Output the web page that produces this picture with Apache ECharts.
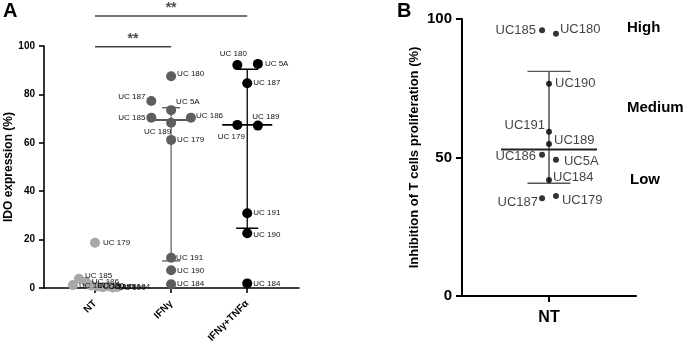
<!DOCTYPE html>
<html><head><meta charset="utf-8">
<script src="https://cdn.jsdelivr.net/npm/echarts@6/dist/echarts.min.js"></script>
<style>html,body{margin:0;padding:0;background:#fff}#c{width:685px;height:346px}</style>
</head><body><div id="c"></div>
<script>
// ---------- Panel A data ----------
const groupsA = ['NT', 'IFNγ', 'IFNγ+TNFα'];
const yTicksA = [0, 20, 40, 60, 80, 100];

const namesNT  = ['UC 179','UC 185','UC 187','UC 186','UC 180','UC 5A','UC 189','UC 191','UC 190','UC 184'];
const valuesNT = [18.7, 3.8, 1.2, 2.6, 1.0, 0.6, 0.3, 0.7, 0.2, 0.4];
const jitterNT = [0, -0.21, -0.29, -0.12, -0.05, 0.03, 0.1, 0.17, 0.23, 0.29];

const namesIFN  = ['UC 180','UC 187','UC 5A','UC 185','UC 186','UC 189','UC 179','UC 191','UC 190','UC 184'];
const valuesIFN = [87.5, 77.3, 73.5, 70.4, 70.4, 68.3, 61.2, 12.5, 7.3, 1.5];
const jitterIFN = [0, -0.26, 0, -0.26, 0.26, 0, 0, 0, 0, 0];

const namesTNF  = ['UC 180','UC 5A','UC 187','UC 179','UC 189','UC 191','UC 190','UC 184'];
const valuesTNF = [92.1, 92.6, 84.6, 67.4, 67.1, 30.9, 22.6, 1.9];
const jitterTNF = [-0.13, 0.14, 0, -0.13, 0.14, 0, 0, 0];

const medianA = [69.4, 67.4];   // IFNγ, IFNγ+TNFα
const upperA  = [74.5, 90.4];
const lowerA  = [11.2, 24.7];

const sigA = [ // [from group, to group, height, text]
  [0, 2, 112.4, '**'],
  [0, 1, 99.7, '**']
];

// ---------- Panel B data ----------
const groupB = ['NT'];
const yTicksB = [0, 50, 100];
const namesB  = ['UC185','UC180','UC190','UC191','UC189','UC186','UC5A','UC184','UC187','UC179'];
const valuesB = [95.9, 94.7, 76.6, 59.3, 54.9, 51.0, 49.2, 41.9, 35.3, 36.1];
const jitterB = [-0.04, 0.04, 0, 0, 0, -0.04, 0.04, 0, -0.04, 0.04];
const medianB = 52.9, upperB = 81.1, lowerB = 40.7;
const levelsB = ['High', 'Medium', 'Low'];

// ---------- label placements (style) ----------
const FONT = '"Liberation Sans", Arial, sans-serif';
const labNT = {'UC 179':['right',[0,0]], 'UC 185':['right',[-2,-3]], 'UC 187':['right',[-2,1]]};
const labIFN = {
  'UC 180':['right',[-2,-2]], 'UC 187':['left',[2,-4]], 'UC 5A':['right',[-3,-8]],
  'UC 185':['left',[2,0]], 'UC 186':['right',[-3,-2]], 'UC 189':['left',[8,9]],
  'UC 179':['right',[-2,0]], 'UC 191':['right',[-3,0]], 'UC 190':['right',[-2,0]], 'UC 184':['right',[-2,-1]]
};
const labTNF = {
  'UC 180':['top',[-4,1]], 'UC 5A':['right',[-1,0]], 'UC 187':['right',[-2,0]],
  'UC 179':['bottom',[-6,0]], 'UC 189':['top',[8,3]], 'UC 191':['right',[-2,0]],
  'UC 190':['right',[-2,1]], 'UC 184':['right',[-2,0]]
};
const labB = {
  'UC185':['left',[0,0]], 'UC180':['right',[-2,-4]], 'UC190':['right',[0,0]],
  'UC191':['left',[2,-6]], 'UC189':['right',[-1,-4]], 'UC186':['left',[0,2]],
  'UC5A':['right',[2,2]], 'UC184':['right',[-2,-3]], 'UC187':['left',[2,4]], 'UC179':['right',[0,4]]
};

function pts(names, vals, jit, gi, labs, fs) {
  return names.map((n, i) => {
    const lp = labs[n] || ['right', [-2, 0]];
    return {
      value: [gi + jit[i], vals[i]], name: n,
      label: { show: true, formatter: n, position: lp[0], offset: lp[1], distance: 3,
               fontSize: fs, color: '#111', fontFamily: FONT }
    };
  });
}

const chart = echarts.init(document.getElementById('c'), null, {renderer: 'canvas'});

function errRender(colV, colM, colC, wM, wC) {
  return function (params, api) {
    const x = api.value(0), m = api.value(1), lo = api.value(2), hi = api.value(3);
    const pm = api.coord([x, m]), pl = api.coord([x, lo]), ph = api.coord([x, hi]);
    const mwv = api.value(4), cwv = api.value(5);
    return { type: 'group', children: [
      { type: 'line', shape: {x1: ph[0], y1: ph[1], x2: pl[0], y2: pl[1]}, style: {stroke: colV, lineWidth: 1.3} },
      { type: 'line', shape: {x1: ph[0] - cwv/2, y1: ph[1], x2: ph[0] + cwv/2, y2: ph[1]}, style: {stroke: colC, lineWidth: wC} },
      { type: 'line', shape: {x1: pl[0] - cwv/2, y1: pl[1], x2: pl[0] + cwv/2, y2: pl[1]}, style: {stroke: colC, lineWidth: wC} },
      { type: 'line', shape: {x1: pm[0] - mwv/2, y1: pm[1], x2: pm[0] + mwv/2, y2: pm[1]}, style: {stroke: colM, lineWidth: wM} }
    ]};
  };
}

const boldAxisName = {fontWeight: 'bold', color: '#000', fontFamily: FONT};

const option = {
  animation: false,
  backgroundColor: '#fff',
  grid: [
    {left: 44, right: 386, top: 46, bottom: 58},
    {left: 462, right: 49, top: 19, bottom: 50}
  ],
  xAxis: [
    { gridIndex: 0, type: 'value', min: -0.67, max: 2.68,
      splitLine: {show: false},
      axisLine: {onZero: false, lineStyle: {color: '#000', width: 1.6}},
      axisTick: {show: true, customValues: [0, 1, 2], length: 5, lineStyle: {color: '#000', width: 1.6}},
      axisLabel: {customValues: [0, 1, 2], formatter: v => groupsA[Math.round(v)], rotate: 45,
                  fontSize: 10, fontWeight: 'bold', color: '#000', margin: 14, fontFamily: FONT} },
    { gridIndex: 1, type: 'value', min: -0.5, max: 0.5,
      splitLine: {show: false},
      axisLine: {onZero: false, lineStyle: {color: '#000', width: 2}},
      axisTick: {show: true, customValues: [0], length: 6, lineStyle: {color: '#000', width: 2}},
      axisLabel: {customValues: [0], formatter: () => groupB[0],
                  fontSize: 16, fontWeight: 'bold', color: '#000', margin: 14, fontFamily: FONT} }
  ],
  yAxis: [
    { gridIndex: 0, type: 'value', min: 0, max: 100, interval: 20,
      name: 'IDO expression (%)', nameLocation: 'middle', nameGap: 25,
      nameTextStyle: Object.assign({fontSize: 12}, boldAxisName),
      splitLine: {show: false},
      axisLine: {show: true, onZero: false, lineStyle: {color: '#000', width: 1.6}},
      axisTick: {show: true, length: 5, lineStyle: {color: '#000', width: 1.6}},
      axisLabel: {fontSize: 10, fontWeight: 'bold', color: '#000', margin: 9, fontFamily: FONT,
                  customValues: yTicksA} },
    { gridIndex: 1, type: 'value', min: 0, max: 100, interval: 50,
      name: 'Inhibition of T cells proliferation (%)', nameLocation: 'middle', nameGap: 41,
      nameTextStyle: Object.assign({fontSize: 13}, boldAxisName),
      splitLine: {show: false},
      axisLine: {show: true, onZero: false, lineStyle: {color: '#000', width: 2}},
      axisTick: {show: true, length: 6, lineStyle: {color: '#000', width: 2}},
      axisLabel: {fontSize: 15, fontWeight: 'bold', color: '#000', margin: 10, fontFamily: FONT,
                  customValues: yTicksB} }
  ],
  series: [
    { type: 'custom', xAxisIndex: 0, yAxisIndex: 0, z: 1, clip: false,
      renderItem: errRender('#666', '#222', '#555', 1.5, 1.3),
      data: [[1, medianA[0], lowerA[0], upperA[0], 40, 18]] },
    { type: 'custom', xAxisIndex: 0, yAxisIndex: 0, z: 1, clip: false,
      renderItem: errRender('#000', '#000', '#000', 1.6, 1.5),
      data: [[2, medianA[1], lowerA[1], upperA[1], 50, 22]] },
    { type: 'scatter', xAxisIndex: 0, yAxisIndex: 0, z: 3, symbolSize: 10, clip: false,
      itemStyle: {color: '#a8a8a8', opacity: 1},
      data: pts(namesNT, valuesNT, jitterNT, 0, labNT, 8) },
    { type: 'scatter', xAxisIndex: 0, yAxisIndex: 0, z: 3, symbolSize: 10, clip: false,
      itemStyle: {color: '#5e5e5e', opacity: 1},
      data: pts(namesIFN, valuesIFN, jitterIFN, 1, labIFN, 8) },
    { type: 'scatter', xAxisIndex: 0, yAxisIndex: 0, z: 3, symbolSize: 10, clip: false,
      itemStyle: {color: '#000', opacity: 1},
      data: pts(namesTNF, valuesTNF, jitterTNF, 2, labTNF, 8) },
    ...sigA.map(s => ({
      type: 'line', xAxisIndex: 0, yAxisIndex: 0, clip: false, symbol: 'none', z: 2,
      lineStyle: {color: '#444', width: 1.4},
      data: [[s[0], s[2]], [s[1], s[2]]]
    })),
    { type: 'scatter', xAxisIndex: 0, yAxisIndex: 0, clip: false, symbolSize: 0, z: 2,
      data: sigA.map(s => ({value: [(s[0] + s[1]) / 2, s[2]],
        label: {show: true, formatter: s[3], position: 'top', distance: 1, fontSize: 14, fontWeight: 'bold', color: '#222', fontFamily: FONT}})) },
    { type: 'custom', xAxisIndex: 1, yAxisIndex: 1, z: 1, clip: false,
      renderItem: errRender('#333', '#222', '#555', 2, 1.3),
      data: [[0, medianB, lowerB, upperB, 96, 43]] },
    { type: 'scatter', xAxisIndex: 1, yAxisIndex: 1, z: 3, symbolSize: 6, clip: false,
      itemStyle: {color: '#000'},
      data: pts(namesB, valuesB, jitterB, 0, labB, 13) }
  ],
  graphic: [
    {type: 'text', left: 3, top: 1, style: {text: 'A', font: 'bold 20px ' + FONT, fill: '#000'}},
    {type: 'text', left: 397, top: 1, style: {text: 'B', font: 'bold 20px ' + FONT, fill: '#000'}},
    ...levelsB.map((t, i) => ({type: 'text', left: [627, 627, 630][i], top: [20, 100, 172][i],
      style: {text: t, font: 'bold 15px ' + FONT, fill: '#000'}}))
  ]
};
chart.setOption(option);
</script>
</body></html>
